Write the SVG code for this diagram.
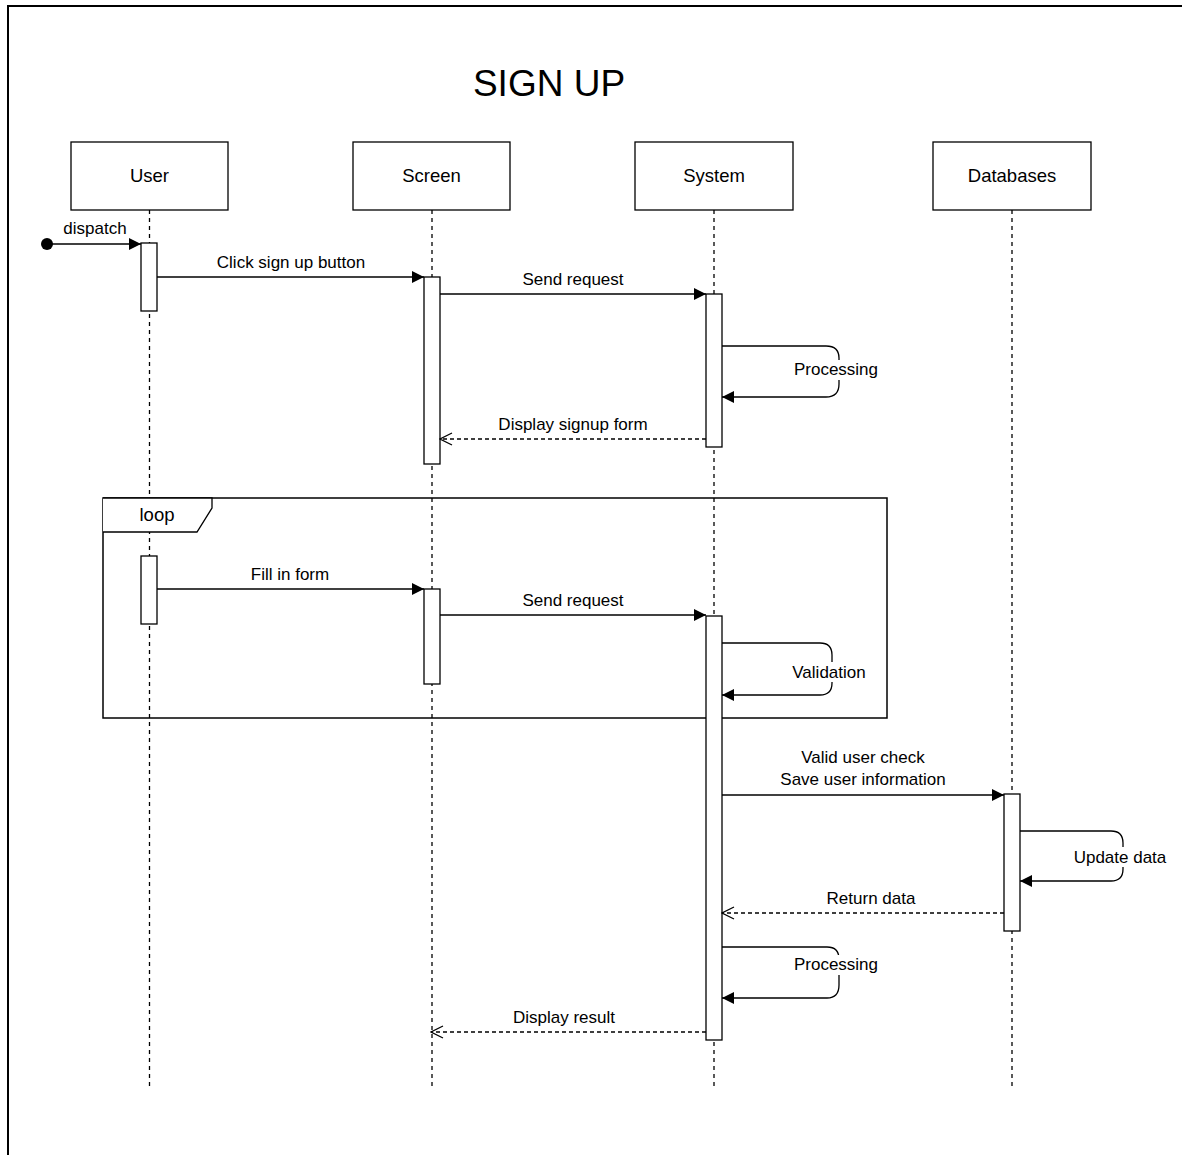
<svg xmlns="http://www.w3.org/2000/svg" width="1182" height="1155" viewBox="0 0 1182 1155">
<style>
text{font-family:"Liberation Sans",Arial,sans-serif;fill:#000}
.lbl{font-size:17px;text-anchor:middle}
.hdr{font-size:18.5px;text-anchor:middle}
.box{fill:#fff;stroke:#000;stroke-width:1.3}
.life{stroke:#000;stroke-width:1.3;stroke-dasharray:4 4;fill:none}
.act{fill:#fff;stroke:#000;stroke-width:1.3}
.msg{stroke:#000;stroke-width:1.3;fill:none;marker-end:url(#fill)}
.ret{stroke:#000;stroke-width:1.3;fill:none;stroke-dasharray:4 3;marker-end:url(#open)}
.bg{fill:#fff}
</style>
<defs>
<marker id="fill" markerWidth="14" markerHeight="12" refX="12" refY="6" orient="auto" markerUnits="userSpaceOnUse">
<path d="M0,0 L12,6 L0,12 Z" fill="#000"/>
</marker>
<marker id="open" markerWidth="14" markerHeight="14" refX="13" refY="7" orient="auto" markerUnits="userSpaceOnUse">
<path d="M1,1 L13,7 L1,13" fill="none" stroke="#000" stroke-width="1.3"/>
</marker>
</defs>
<rect width="1182" height="1155" fill="#fff"/>
<path d="M8,1160 L8,6 L1190,6" fill="none" stroke="#000" stroke-width="2"/>
<text x="549" y="96" font-size="37" text-anchor="middle">SIGN UP</text>

<g id="lifelines">
<line class="life" x1="149.5" y1="210" x2="149.5" y2="1090"/>
<line class="life" x1="432" y1="210" x2="432" y2="1090"/>
<line class="life" x1="714" y1="210" x2="714" y2="1090"/>
<line class="life" x1="1012" y1="210" x2="1012" y2="1090"/>
</g>

<g id="user"><rect class="box" x="71" y="142" width="157" height="68"/><text class="hdr" x="149.5" y="182">User</text></g>
<g id="screen"><rect class="box" x="353" y="142" width="157" height="68"/><text class="hdr" x="431.5" y="182">Screen</text></g>
<g id="system"><rect class="box" x="635" y="142" width="158" height="68"/><text class="hdr" x="714" y="182">System</text></g>
<g id="databases"><rect class="box" x="933" y="142" width="158" height="68"/><text class="hdr" x="1012" y="182">Databases</text></g>

<g id="loop">
<rect x="103" y="498" width="784" height="220" fill="none" stroke="#000" stroke-width="1.5"/>
<path d="M103,498 L212,498 L212,508 L197,532 L103,532" fill="#fff" stroke="#000" stroke-width="1.3"/>
<text x="157" y="521" font-size="18.5" text-anchor="middle">loop</text>
</g>

<g id="activations">
<rect class="act" x="141" y="243" width="16" height="68"/>
<rect class="act" x="424" y="277" width="16" height="187"/>
<rect class="act" x="706" y="294" width="16" height="153"/>
<rect class="act" x="141" y="556" width="16" height="68"/>
<rect class="act" x="424" y="589" width="16" height="95"/>
<rect class="act" x="706" y="616" width="16" height="424"/>
<rect class="act" x="1004" y="794" width="16" height="137"/>
</g>

<g id="connectors">
<circle cx="47" cy="244" r="6" fill="#000"/>
<line class="msg" x1="47" y1="244" x2="141" y2="244"/>
<text class="lbl" x="95" y="234">dispatch</text>

<line class="msg" x1="157" y1="277" x2="424" y2="277"/>
<text class="lbl" x="291" y="268">Click sign up button</text>

<line class="msg" x1="440" y1="294" x2="706" y2="294"/>
<text class="lbl" x="573" y="285">Send request</text>

<path class="msg" d="M722,346 L826,346 Q839,346 839,358 L839,384 Q839,397 826,397 L722,397"/>
<rect class="bg" x="793" y="360" width="88" height="20"/>
<text class="lbl" x="836" y="375">Processing</text>

<line class="ret" x1="706" y1="439" x2="440" y2="439"/>
<text class="lbl" x="573" y="430">Display signup form</text>

<line class="msg" x1="157" y1="589" x2="424" y2="589"/>
<text class="lbl" x="290" y="580">Fill in form</text>

<line class="msg" x1="440" y1="615" x2="706" y2="615"/>
<text class="lbl" x="573" y="606">Send request</text>

<path class="msg" d="M722,643 L820,643 Q832,643 832,655 L832,683 Q832,695 820,695 L722,695"/>
<rect class="bg" x="790" y="662" width="78" height="20"/>
<text class="lbl" x="829" y="678">Validation</text>

<line class="msg" x1="722" y1="795" x2="1004" y2="795"/>
<text class="lbl" x="863" y="763">Valid user check</text>
<text class="lbl" x="863" y="785">Save user information</text>

<path class="msg" d="M1020,831 L1111,831 Q1123,831 1123,843 L1123,869 Q1123,881 1111,881 L1020,881"/>
<rect class="bg" x="1073" y="847" width="96" height="20"/>
<text class="lbl" x="1120" y="863">Update data</text>

<line class="ret" x1="1004" y1="913" x2="722" y2="913"/>
<text class="lbl" x="871" y="904">Return data</text>

<path class="msg" d="M722,947 L827,947 Q839,947 839,959 L839,985 Q839,998 827,998 L722,998"/>
<rect class="bg" x="793" y="955" width="88" height="20"/>
<text class="lbl" x="836" y="970">Processing</text>

<line class="ret" x1="706" y1="1032" x2="431" y2="1032"/>
<text class="lbl" x="564" y="1023">Display result</text>
</g>
</svg>
